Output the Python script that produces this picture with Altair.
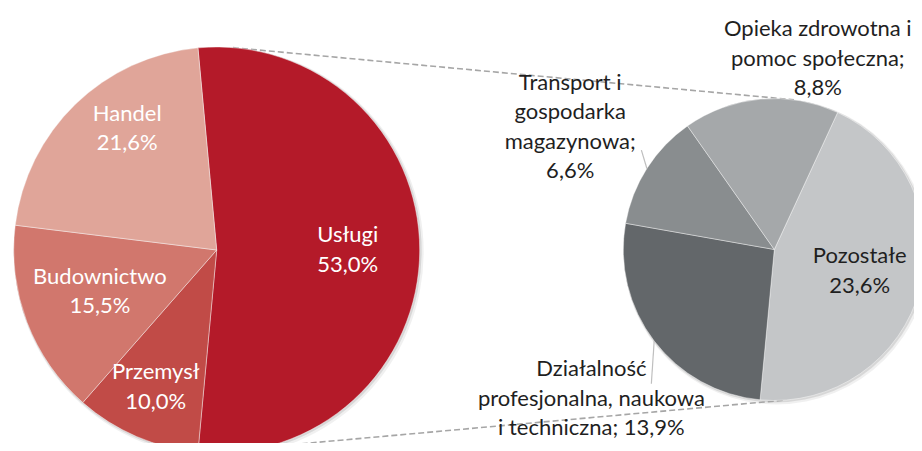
import math
import pandas as pd
import altair as alt

# ---------------- data ----------------
left_categories = ["Usługi", "Przemysł", "Budownictwo", "Handel"]
left_values = [53.0, 10.0, 15.5, 21.6]

right_categories = [
    "Pozostałe",
    "Działalność profesjonalna, naukowa i techniczna",
    "Transport i gospodarka magazynowa",
    "Opieka zdrowotna i pomoc społeczna",
]
right_values = [23.6, 13.9, 6.6, 8.8]

left_label_tpl = ["Usługi\n{v}", "Przemysł\n{v}", "Budownictwo\n{v}", "Handel\n{v}"]
right_label_tpl = [
    "Pozostałe\n{v}",
    "Działalność\nprofesjonalna, naukowa\ni techniczna; {v}",
    "Transport i\ngospodarka\nmagazynowa;\n{v}",
    "Opieka zdrowotna i\npomoc społeczna;\n{v}",
]

# ---------------- layout / style ----------------
W, H = 906, 435
OFF = 8  # page margin
LEFT_C = (216.7, 250.0)
LEFT_R = 203
LEFT_START = -5.3
RIGHT_C = (774.3, 249.5)
RIGHT_R = 151
RIGHT_START = 24.8

left_colors = ["#B41A29", "#C14B47", "#D1776D", "#E0A599"]
right_colors = ["#C4C6C8", "#63676A", "#898D8F", "#A5A8AA"]

left_label_r = [131, 150, 124, 151]
left_label_nudge = [0, 0.7, 1.2, 7.8]
right_label_r = [88, 236, 238, 195.4]
right_label_nudge = [-1.1, -1.9, -1.5, 18]

FONT = "Lato"
FS = 22
LH = 29.5


def fmt(v):
    return f"{v:.1f}".replace(".", ",") + "%"


def pt(center, r, ang):
    a = math.radians(ang)
    return center[0] + r * math.sin(a) - OFF, center[1] - r * math.cos(a) - OFF


def mids(start, values):
    tot = sum(values)
    cum = 0
    out = []
    for v in values:
        out.append(start + 360 * (cum + v / 2) / tot)
        cum += v
    return out


def pie_df(cats, vals):
    return pd.DataFrame({"cat": cats, "value": vals, "idx": list(range(len(cats)))})


def label_df(center, start, vals, tpls, radii, nudges):
    rows = []
    for m, v, t, r, n in zip(mids(start, vals), vals, tpls, radii, nudges):
        x, y = pt(center, r, m + n)
        txt = t.format(v=fmt(v))
        nl = txt.count("\n")
        rows.append({"x": x, "y": y - nl * LH / 2, "label": txt})
    return pd.DataFrame(rows)


def pie(cats, vals, colors, center, radius, start):
    a0 = math.radians(start % 360)
    return alt.Chart(pie_df(cats, vals)).mark_arc(
        radius=radius, stroke="#ffffff", strokeWidth=0.6, strokeOpacity=0.7
    ).encode(
        theta=alt.Theta("value:Q", stack=True,
                        scale=alt.Scale(range=[a0, a0 + 2 * math.pi])),
        color=alt.Color("cat:N", scale=alt.Scale(domain=cats, range=colors), legend=None),
        order=alt.Order("idx:Q"),
        x=alt.value(center[0] - OFF),
        y=alt.value(center[1] - OFF),
    )


def shadow(center, radius, d, extra, op):
    return alt.Chart(pd.DataFrame({"a": [0]})).mark_arc(
        radius=radius + extra, theta=0, theta2=2 * math.pi, color="#000000", opacity=op
    ).encode(x=alt.value(center[0] - OFF + d), y=alt.value(center[1] - OFF + d))


def segs(pairs):
    rows = []
    for (p1, p2) in pairs:
        rows.append({"x": p1[0], "y": p1[1], "x2": p2[0], "y2": p2[1]})
    return pd.DataFrame(rows)


def rules(df, color, width, dash=None):
    kw = dict(color=color, strokeWidth=width)
    if dash:
        kw["strokeDash"] = dash
    return alt.Chart(df).mark_rule(**kw).encode(
        x=alt.X("x:Q", scale=None), y=alt.Y("y:Q", scale=None),
        x2="x2:Q", y2="y2:Q",
    )


def texts(df, color):
    return alt.Chart(df).mark_text(
        font=FONT, fontSize=FS, lineBreak="\n", lineHeight=LH,
        align="center", baseline="middle", color=color,
    ).encode(x=alt.X("x:Q", scale=None), y=alt.Y("y:Q", scale=None), text="label:N")


# connectors between pies (dashed)
conn = segs([
    (pt(LEFT_C, LEFT_R, 4.6), pt(RIGHT_C, RIGHT_R, 7.5)),
    (pt(LEFT_C, LEFT_R, 166), pt(RIGHT_C, RIGHT_R, 176)),
])

# leader lines for outside labels
rm = mids(RIGHT_START, right_values)
leaders = segs([
    (pt(RIGHT_C, RIGHT_R, rm[2]), pt(RIGHT_C, 166, 306.8)),
    (pt(RIGHT_C, RIGHT_R, rm[1]), pt(RIGHT_C, 182, 222.5)),
])

left_labels = label_df(LEFT_C, LEFT_START, left_values, left_label_tpl, left_label_r, left_label_nudge)
right_labels = label_df(RIGHT_C, RIGHT_START, right_values, right_label_tpl, right_label_r, right_label_nudge)

chart = alt.layer(
    shadow(LEFT_C, LEFT_R, 2, 2, 0.06),
    shadow(LEFT_C, LEFT_R, 1, 1, 0.10),
    shadow(RIGHT_C, RIGHT_R, 2, 2, 0.06),
    shadow(RIGHT_C, RIGHT_R, 1, 1, 0.10),
    rules(conn, "#A6A6A6", 1.6, [6, 3]),
    pie(left_categories, left_values, left_colors, LEFT_C, LEFT_R, LEFT_START),
    pie(right_categories, right_values, right_colors, RIGHT_C, RIGHT_R, RIGHT_START),
    rules(leaders, "#BFBFBF", 1.2),
    texts(left_labels, "#FFFFFF"),
    texts(right_labels, "#1F1F1F"),
).resolve_scale(
    theta="independent", color="independent"
).properties(
    width=W, height=H, padding=0, autosize=alt.AutoSizeParams(type="none")
).configure_view(stroke=None)

chart.save("out.html", embed_options={"renderer": "svg", "actions": False})
